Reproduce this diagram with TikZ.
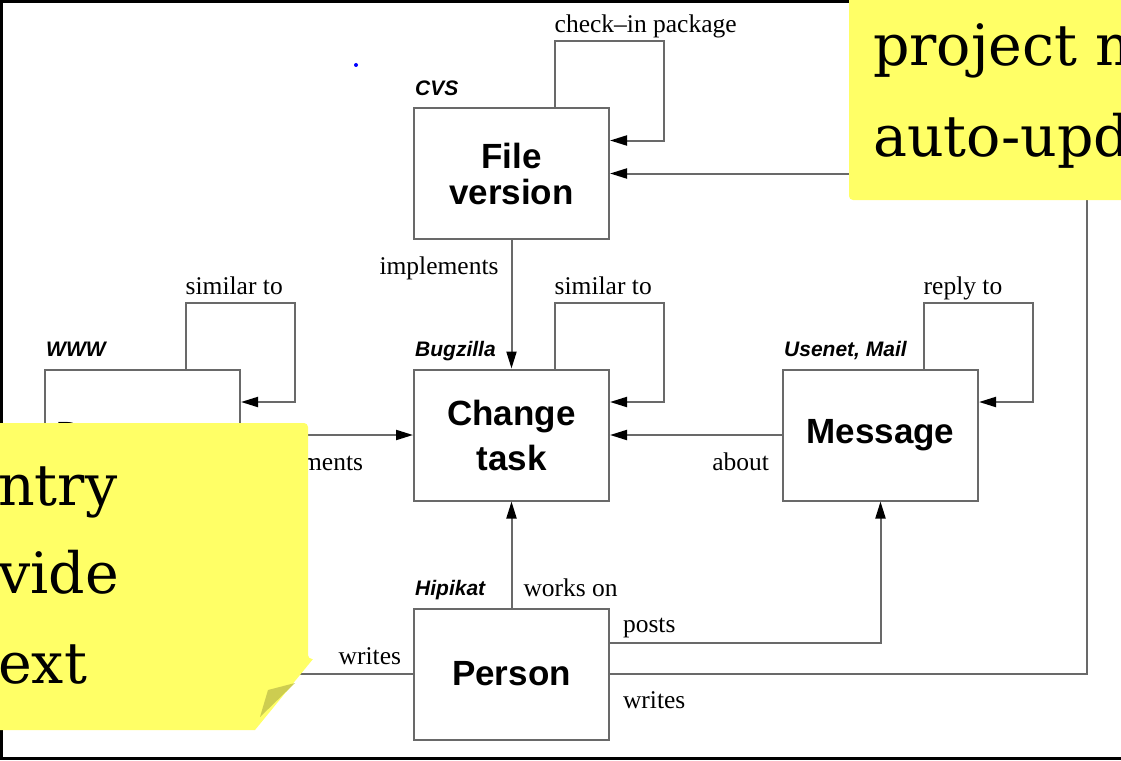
\documentclass[tikz,border=0pt]{standalone}
\usepackage{fontspec}
\setmainfont{Liberation Serif}
\setsansfont{Liberation Sans}
\newfontfamily\stickyfont{DejaVu Serif}
\usetikzlibrary{arrows.meta}
\definecolor{wire}{RGB}{105,105,105}
\definecolor{sticky}{RGB}{255,255,102}
\definecolor{stickyfold}{RGB}{205,205,80}

\begin{document}
\begin{tikzpicture}[x=1pt,y=-1pt,
		entity/.style={draw=wire, line width=2pt, minimum width=195pt, minimum height=131pt, inner sep=0pt, align=center, font=\sffamily\bfseries\fontsize{35}{36}\selectfont},
		tag/.style={anchor=base west, inner sep=0pt, font=\sffamily\bfseries\itshape\fontsize{21}{21}\selectfont},
		rel/.style={inner sep=0pt, font=\fontsize{25.5}{26}\selectfont},
		link/.style={draw=wire, line width=2pt, -{Triangle[length=17pt,width=10pt,color=black]}},
		notetext/.style={anchor=base west, inner sep=0pt, font=\stickyfont\fontsize{57}{57}\selectfont}]
		%%%%% START %%%%%
		\useasboundingbox (0,0) rectangle (1121,760);
		\clip (0,0) rectangle (1121,760);
		\draw[line width=3pt] (1121,1.5) -- (1.5,1.5) -- (1.5,758.5) -- (1121,758.5);
		\fill[blue] (356,65) circle (2pt);
		
		\node[entity] (fileversion) at (511.5,173.5) {File\\version};
		\node[entity] (changetask) at (511.5,435) {Change\\[9pt]task};
		\node[entity] (message) at (880.5,435) {Message};
		\node[entity] (person) at (511.5,674) {Person};
		\node[entity] (document) at (142.5,435) {Document};
		
		\node[tag] (cvs) at ([xshift=2pt,yshift=12pt]fileversion.north west) {CVS};
		\node[tag] (bugzilla) at ([xshift=2pt,yshift=12pt]changetask.north west) {Bugzilla};
		\node[tag] (usenet) at ([xshift=2pt,yshift=12pt]message.north west) {Usenet, Mail};
		\node[tag] (www) at ([xshift=2pt,yshift=12pt]document.north west) {WWW};
		\node[tag] (hipikat) at ([xshift=2pt,yshift=12pt]person.north west) {Hipikat};
		
		% self loops
		\foreach \ent/\word in {fileversion/check--in package, changetask/similar to, message/reply to, document/similar to}{
			\draw[link] ([xshift=43pt]\ent.north) -- ++(0,-66) coordinate (top\ent) -| ([xshift=54pt,yshift=33pt]\ent.east) -- ([yshift=33pt]\ent.east);
			\node[rel, anchor=base west] (loop\ent) at ([yshift=8pt]top\ent) {\word};
		}
		
		\draw[link] (fileversion) -- (changetask)
			node[rel, pos=0, anchor=base east, xshift=-12pt, yshift=-34pt] (impltop) {implements};
		\draw[link] (document) -- (changetask)
			node[rel, pos=0, anchor=base west, xshift=2pt, yshift=-35pt] (implleft) {implements};
		\draw[link] (message) -- (changetask)
			node[rel, pos=0, anchor=base east, xshift=-12pt, yshift=-35pt] (about) {about};
		\draw[link] (person) -- (changetask)
			node[rel, pos=0, anchor=base west, xshift=11pt, yshift=11pt] (workson) {works on};
		\draw[link] ([yshift=31pt]person.east) -| (message.south)
			node[rel, pos=0, anchor=base west, xshift=12pt, yshift=11pt] (posts) {posts};
		\draw[link] (person.east)
			node[rel, anchor=base west, xshift=12pt, yshift=-34pt] (writesright) {writes}
			-- ++(477,0) |- (fileversion.east);
		\draw[link] (person.west) -| (document.south)
			node[rel, pos=0, anchor=base east, xshift=-11pt, yshift=10pt] (writesleft) {writes};
		
		% sticky notes
		\fill[sticky, rounded corners=4pt] (849,-10) rectangle (1140,200);
		\node[notetext] (project) at (873,66) {project m};
		\node[notetext] (autoupd) at (873,156) {auto-upd};
		
		\fill[sticky, rounded corners=4pt] (-10,423) -- (308,423) -- (308,659) [sharp corners] -- (313,659) -- (255,730) -- (-10,730) -- cycle;
		\fill[stickyfold] (295,683) -- (268,690) -- (260,717) -- cycle;
		\node[notetext] (ntry) at (-2,505) {ntry};
		\node[notetext] (vide) at (-2,593) {vide};
		\node[notetext] (ext) at (-2,683) {ext};
		%%%%% END %%%%%
\end{tikzpicture}
\end{document}
